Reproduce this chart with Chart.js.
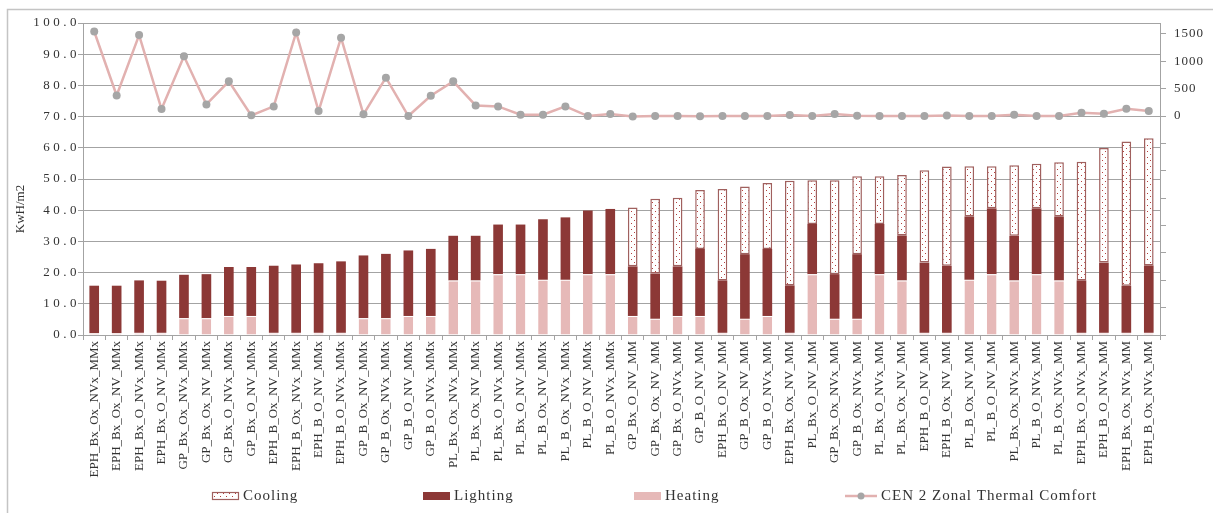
<!DOCTYPE html>
<html>
<head>
<meta charset="utf-8">
<script src="https://cdn.jsdelivr.net/npm/chart.js@4.4.1/dist/chart.umd.min.js"></script>
<style>
  html, body { margin: 0; padding: 0; background: #fff; }
</style>
</head>
<body>
<canvas id="chart" width="1213" height="513"></canvas>
<script>
// categories (x axis)
const categories = [
  'EPH_Bx_Ox_NVx_MMx', 'EPH_Bx_Ox_NV_MMx', 'EPH_Bx_O_NVx_MMx', 'EPH_Bx_O_NV_MMx',
  'GP_Bx_Ox_NVx_MMx', 'GP_Bx_Ox_NV_MMx', 'GP_Bx_O_NVx_MMx', 'GP_Bx_O_NV_MMx',
  'EPH_B_Ox_NV_MMx', 'EPH_B_Ox_NVx_MMx', 'EPH_B_O_NV_MMx', 'EPH_B_O_NVx_MMx',
  'GP_B_Ox_NV_MMx', 'GP_B_Ox_NVx_MMx', 'GP_B_O_NV_MMx', 'GP_B_O_NVx_MMx',
  'PL_Bx_Ox_NVx_MMx', 'PL_Bx_Ox_NV_MMx', 'PL_Bx_O_NVx_MMx', 'PL_Bx_O_NV_MMx',
  'PL_B_Ox_NV_MMx', 'PL_B_Ox_NVx_MMx', 'PL_B_O_NV_MMx', 'PL_B_O_NVx_MMx',
  'GP_Bx_O_NV_MM', 'GP_Bx_Ox_NV_MM', 'GP_Bx_O_NVx_MM', 'GP_B_O_NV_MM',
  'EPH_Bx_O_NV_MM', 'GP_B_Ox_NV_MM', 'GP_B_O_NVx_MM', 'EPH_Bx_Ox_NV_MM',
  'PL_Bx_O_NV_MM', 'GP_Bx_Ox_NVx_MM', 'GP_B_Ox_NVx_MM', 'PL_Bx_O_NVx_MM',
  'PL_Bx_Ox_NV_MM', 'EPH_B_O_NV_MM', 'EPH_B_Ox_NV_MM', 'PL_B_Ox_NV_MM',
  'PL_B_O_NV_MM', 'PL_Bx_Ox_NVx_MM', 'PL_B_O_NVx_MM', 'PL_B_Ox_NVx_MM',
  'EPH_Bx_O_NVx_MM', 'EPH_B_O_NVx_MM', 'EPH_Bx_Ox_NVx_MM', 'EPH_B_Ox_NVx_MM'
];

// KwH/m2, stacked
const heating = [
  0.6, 0.6, 0.7, 0.7, 5.4, 5.4, 6.1, 6.1, 0.7, 0.7, 0.7, 0.7,
  5.4, 5.4, 6.1, 6.1, 17.5, 17.5, 19.5, 19.5, 17.7, 17.7, 19.5, 19.5,
  6.1, 5.2, 6.1, 6.1, 0.7, 5.2, 6.1, 0.7, 19.5, 5.2, 5.2, 19.5,
  17.5, 0.7, 0.7, 17.7, 19.5, 17.5, 19.5, 17.5, 0.7, 0.7, 0.7, 0.7
];
const lighting = [
  15.2, 15.2, 16.8, 16.7, 13.9, 14.1, 15.7, 15.7, 21.5, 21.9, 22.3, 22.9,
  20.1, 20.6, 21.0, 21.5, 14.3, 14.3, 15.9, 15.9, 19.4, 20.0, 20.4, 20.9,
  15.9, 14.5, 15.9, 21.5, 16.8, 20.7, 21.5, 15.2, 16.1, 14.3, 20.7, 16.1,
  14.4, 22.5, 21.5, 20.3, 21.1, 14.3, 21.1, 20.5, 16.8, 22.5, 15.1, 21.6
];
const cooling = [
  0, 0, 0, 0, 0, 0, 0, 0, 0, 0, 0, 0,
  0, 0, 0, 0, 0, 0, 0, 0, 0, 0, 0, 0,
  18.9, 24.0, 22.0, 18.9, 29.3, 21.7, 21.1, 33.5, 14.0, 30.1, 25.0, 15.3,
  19.4, 29.6, 31.8, 16.1, 13.5, 22.6, 14.3, 17.4, 38.0, 36.7, 46.2, 40.8
];
// CEN 2 zonal thermal comfort (right axis)
const comfort = [
  1545, 375, 1480, 127, 1092, 212, 634, 13, 176, 1527, 91, 1431,
  31, 701, 0, 370, 634, 194, 176, 24, 24, 176, 0, 36,
  -10, 0, 0, -5, 0, 0, 0, 18, 0, 36, 5, 0,
  0, 0, 12, 0, 0, 24, 0, 0, 60, 42, 133, 91
];

const leftAxis = { min: 0, max: 100, step: 10 };
const rightAxis = { min: -4000, max: 1700 };
const rightTicks = [-4000, -3500, -3000, -2500, -2000, -1500, -1000, -500, 0, 500, 1000, 1500];

const serif = 'Liberation Serif';
const gridGray = '#a3a3a3';
const textColor = '#333';
const heatColor = '#e6b9b8';
const lightColor = '#8c3836';
const coolBorder = '#a0605e';
const lineColor = '#e2b1b0';
const pointColor = '#a6a6a6';

function dotPattern() {
  const c = document.createElement('canvas');
  c.width = 6; c.height = 6;
  const g = c.getContext('2d');
  g.fillStyle = '#fff';
  g.fillRect(0, 0, 6, 6);
  g.fillStyle = '#b5403d';
  g.fillRect(1, 1, 1, 1);
  g.fillRect(4, 4, 1, 1);
  return g.createPattern(c, 'repeat');
}
const coolFill = dotPattern();

// spread tick label letters like the original
function spaceLabels(scale, px) {
  if (scale._spaced) return;
  const orig = scale.drawLabels.bind(scale);
  scale.drawLabels = function(area) {
    this.ctx.save();
    this.ctx.letterSpacing = px + 'px';
    orig(area);
    this.ctx.restore();
  };
  scale._spaced = true;
}

const framePlugin = {
  id: 'frame',
  beforeDraw(chart) {
    const c = chart.ctx;
    c.save();
    c.strokeStyle = '#c4c4c4';
    c.lineWidth = 1.5;
    c.beginPath();
    c.moveTo(7.5, 513);
    c.lineTo(7.5, 9.5);
    c.lineTo(1213, 9.5);
    c.stroke();
    c.restore();
  }
};

const yTitlePlugin = {
  id: 'yTitle',
  afterDraw(chart) {
    const c = chart.ctx;
    c.save();
    c.translate(21, 209);
    c.rotate(-Math.PI / 2);
    c.font = '13px "' + serif + '"';
    c.fillStyle = textColor;
    c.textAlign = 'center';
    c.textBaseline = 'middle';
    c.fillText('KwH/m2', 0, 0);
    c.restore();
  }
};

// legend in equal slots like excel
const legendItems = [
  { text: 'Cooling', kind: 'cool' },
  { text: 'Lighting', kind: 'light' },
  { text: 'Heating', kind: 'heat' },
  { text: 'CEN 2 Zonal Thermal Comfort', kind: 'line' }
];
const legendPlugin = {
  id: 'slotLegend',
  afterDraw(chart) {
    const c = chart.ctx;
    const y = 496;
    c.save();
    c.font = '15px "' + serif + '"';
    c.letterSpacing = '1px';
    c.textBaseline = 'middle';
    c.fillStyle = textColor;
    legendItems.forEach((it, i) => {
      const x = 212 + i * 211;
      let w = 27;
      if (it.kind === 'line') {
        w = 32;
        c.strokeStyle = lineColor;
        c.lineWidth = 2.5;
        c.beginPath();
        c.moveTo(x, y); c.lineTo(x + w, y);
        c.stroke();
        c.fillStyle = pointColor;
        c.beginPath();
        c.arc(x + w / 2, y, 3.5, 0, Math.PI * 2);
        c.fill();
      } else {
        c.fillStyle = it.kind === 'cool' ? coolFill : (it.kind === 'light' ? lightColor : heatColor);
        c.fillRect(x, y - 4, w, 8);
        if (it.kind === 'cool') {
          c.strokeStyle = coolBorder;
          c.lineWidth = 1.2;
          c.strokeRect(x + 0.5, y - 3.5, w - 1, 7);
        }
      }
      c.fillStyle = textColor;
      c.fillText(it.text, x + w + 4, y);
    });
    c.restore();
  }
};

const tickFont = { family: serif, size: 13 };

new Chart(document.getElementById('chart'), {
  type: 'bar',
  data: {
    labels: categories,
    datasets: [
      {
        type: 'line',
        label: 'CEN 2 Zonal Thermal Comfort',
        data: comfort,
        yAxisID: 'y2',
        borderColor: lineColor,
        borderWidth: 2.5,
        pointRadius: 4,
        pointBackgroundColor: pointColor,
        pointBorderColor: pointColor,
        pointBorderWidth: 0,
        tension: 0
      },
      {
        label: 'Heating',
        data: heating,
        backgroundColor: heatColor,
        borderColor: '#fff',
        borderWidth: { top: 1, left: 0, right: 0, bottom: 0 },
        borderSkipped: false,
        stack: 'energy'
      },
      {
        label: 'Lighting',
        data: lighting,
        backgroundColor: lightColor,
        stack: 'energy'
      },
      {
        label: 'Cooling',
        data: cooling,
        backgroundColor: coolFill,
        borderColor: coolBorder,
        borderWidth: 1.5,
        borderSkipped: false,
        stack: 'energy'
      }
    ]
  },
  options: {
    responsive: false,
    animation: false,
    layout: { padding: { top: 23, left: 0, right: 0, bottom: 28 } },
    datasets: {
      bar: { barPercentage: 0.43, categoryPercentage: 1 }
    },
    plugins: {
      legend: { display: false },
      tooltip: { enabled: false }
    },
    scales: {
      x: {
        stacked: true,
        grid: { drawOnChartArea: false, tickLength: 5, color: gridGray, offset: true },
        border: { color: gridGray },
        ticks: {
          autoSkip: false, maxRotation: 90, minRotation: 90,
          font: tickFont, color: textColor, padding: 1
        },
        afterFit(s) { s.height = 150; }
      },
      y: {
        stacked: true,
        min: leftAxis.min,
        max: leftAxis.max,
        ticks: {
          stepSize: leftAxis.step,
          callback: v => v.toFixed(1),
          font: tickFont, color: textColor, padding: -2
        },
        grid: { color: gridGray, tickLength: 5 },
        border: { color: gridGray },
        afterFit(s) { s.width = 83; spaceLabels(s, 3.5); }
      },
      y2: {
        position: 'right',
        min: rightAxis.min,
        max: rightAxis.max,
        afterBuildTicks(s) { s.ticks = rightTicks.map(v => ({ value: v })); },
        ticks: {
          callback: v => (v < 0 ? '' : String(v)),
          font: tickFont, color: textColor, padding: 8
        },
        grid: { drawOnChartArea: false, tickLength: 6, color: gridGray },
        border: { color: gridGray },
        afterFit(s) { s.width = 53; spaceLabels(s, 1); }
      }
    }
  },
  plugins: [framePlugin, yTitlePlugin, legendPlugin]
});
</script>
</body>
</html>
